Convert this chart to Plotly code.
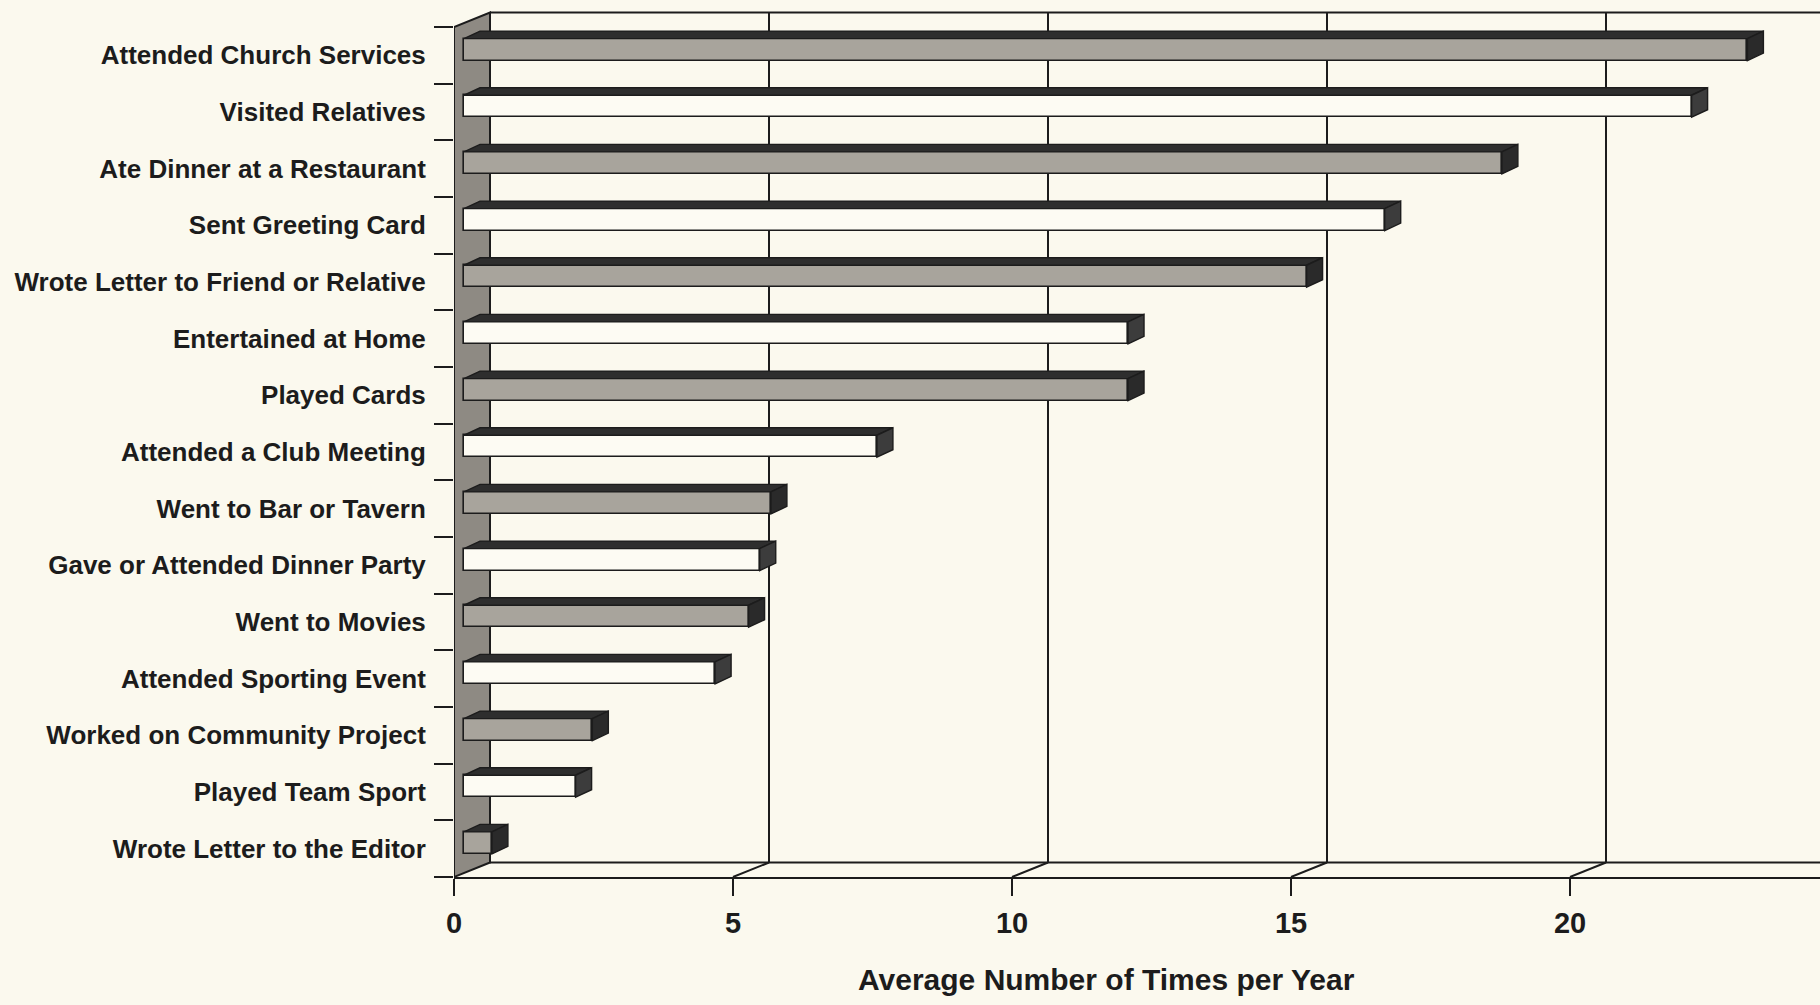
import plotly.graph_objects as go

# ---------------- data ----------------
categories = [
    "Attended Church Services",
    "Visited Relatives",
    "Ate Dinner at a Restaurant",
    "Sent Greeting Card",
    "Wrote Letter to Friend or Relative",
    "Entertained at Home",
    "Played Cards",
    "Attended a Club Meeting",
    "Went to Bar or Tavern",
    "Gave or Attended Dinner Party",
    "Went to Movies",
    "Attended Sporting Event",
    "Worked on Community Project",
    "Played Team Sport",
    "Wrote Letter to the Editor",
]
values = [23.0, 22.0, 18.6, 16.5, 15.1, 11.9, 11.9, 7.4, 5.5, 5.3, 5.1, 4.5, 2.3, 2.0, 0.5]
x_ticks = [0, 5, 10, 15, 20]
x_title = "Average Number of Times per Year"

# ---------------- style / geometry ----------------
W, H = 1820, 1005
M_L, M_B = 454, 128
PX_X = 55.8     # pixels per x unit
PX_Y = 56.67    # pixels per category
n = len(categories)
idx = list(range(n))
X_MAX = (W - M_L) / PX_X
Y_BOT = n - 0.5
Y_TOP = -0.5 - 27 / PX_Y

WALL_DX, WALL_DY = 36 / PX_X, -14.5 / PX_Y      # depth of the chart box
BAR_FX, BAR_FY = 10 / PX_X, -5.75 / PX_Y         # bar front plane offset
BAR_H = 22 / PX_Y                                # front face height
BAR_DX, BAR_DY = 16 / PX_X, -7.5 / PX_Y          # bar depth

BG = "#fbf9ee"
INK = "#1c1c1c"
GRAY_FACE = "#a8a49c"
WHITE_FACE = "#fdfbf3"
TOP_FACE = "#2e2e2e"
SIDE_GRAY = "#2a2a2a"
SIDE_WHITE = "#3c3c3c"
WALL = "#8e8a83"
FONT = "Liberation Sans, Arial, sans-serif"

face_colors = [GRAY_FACE if i % 2 == 0 else WHITE_FACE for i in idx]

fig = go.Figure()

# front faces of the bars
fig.add_trace(go.Bar(
    x=values,
    y=[i + BAR_FY for i in idx],
    base=BAR_FX,
    orientation="h",
    width=BAR_H,
    marker=dict(color=face_colors, line=dict(color=INK, width=1.6)),
    hoverinfo="skip",
    showlegend=False,
))

# top faces and side faces
top_x, top_y = [], []
side = {0: ([], []), 1: ([], [])}
for i, v in zip(idx, values):
    yt = i + BAR_FY - BAR_H / 2
    yb = i + BAR_FY + BAR_H / 2
    x0 = BAR_FX
    x1 = BAR_FX + v
    top_x += [x0, x1, x1 + BAR_DX, x0 + BAR_DX, x0, None]
    top_y += [yt, yt, yt + BAR_DY, yt + BAR_DY, yt, None]
    sx, sy = side[i % 2]
    sx += [x1, x1 + BAR_DX, x1 + BAR_DX, x1, x1, None]
    sy += [yt, yt + BAR_DY, yb + BAR_DY, yb, yt, None]

fig.add_trace(go.Scatter(
    x=top_x, y=top_y, mode="lines", fill="toself", fillcolor=TOP_FACE,
    line=dict(color=INK, width=1.4), hoverinfo="skip", showlegend=False))
for k, col in ((0, SIDE_GRAY), (1, SIDE_WHITE)):
    fig.add_trace(go.Scatter(
        x=side[k][0], y=side[k][1], mode="lines", fill="toself", fillcolor=col,
        line=dict(color=INK, width=1.4), hoverinfo="skip", showlegend=False))

# ---------------- chart box (walls, floor, gridlines) ----------------
shapes = []
line_style = dict(color=INK, width=2)
# left wall
wall_path = (f"M 0,{Y_BOT} L 0,-0.5 L {WALL_DX},{-0.5 + WALL_DY} "
             f"L {WALL_DX},{Y_BOT + WALL_DY} Z")
shapes.append(dict(type="path", path=wall_path, xref="x", yref="y",
                   fillcolor=WALL, line=dict(color=INK, width=2), layer="below"))
# back wall top edge
shapes.append(dict(type="line", xref="x", yref="y", x0=WALL_DX, x1=X_MAX + 1,
                   y0=-0.5 + WALL_DY, y1=-0.5 + WALL_DY, line=line_style, layer="below"))
# back floor edge
shapes.append(dict(type="line", xref="x", yref="y", x0=WALL_DX, x1=X_MAX + 1,
                   y0=Y_BOT + WALL_DY, y1=Y_BOT + WALL_DY, line=line_style, layer="below"))
# gridlines on the back wall and floor diagonals
for t in x_ticks[1:]:
    shapes.append(dict(type="line", xref="x", yref="y", x0=t + WALL_DX, x1=t + WALL_DX,
                       y0=Y_BOT + WALL_DY, y1=-0.5 + WALL_DY, line=line_style, layer="below"))
    shapes.append(dict(type="line", xref="x", yref="y", x0=t, x1=t + WALL_DX,
                       y0=Y_BOT, y1=Y_BOT + WALL_DY, line=line_style, layer="below"))

fig.update_layout(
    shapes=shapes,
    width=W, height=H,
    margin=dict(l=M_L, r=0, t=0, b=M_B, pad=0),
    paper_bgcolor=BG, plot_bgcolor=BG,
    bargap=0,
    showlegend=False,
    font=dict(family=FONT, color=INK),
    xaxis=dict(
        range=[0, X_MAX], tickmode="array", tickvals=x_ticks,
        ticktext=[str(t) for t in x_ticks],
        showgrid=False, zeroline=False,
        showline=True, linecolor=INK, linewidth=2,
        ticks="outside", ticklen=17, tickwidth=2, tickcolor=INK,
        tickfont=dict(family=FONT, size=29, color=INK, weight="bold"),
        ticklabelstandoff=2,
    ),
    yaxis=dict(
        range=[Y_BOT, Y_TOP], tickmode="array", tickvals=idx, ticktext=categories,
        showgrid=False, zeroline=False, showline=False,
        ticks="outside", ticklen=19, tickcolor="rgba(0,0,0,0)",
        tickfont=dict(family=FONT, size=26, color=INK, weight="bold"),
        ticklabelstandoff=3,
        minor=dict(tickmode="array", tickvals=[i - 0.5 for i in range(n + 1)],
                   ticks="outside", ticklen=19, tickwidth=2, tickcolor=INK,
                   showgrid=False),
    ),
    annotations=[dict(
        text=x_title, xref="paper", yref="paper",
        x=(1106 - M_L) / (W - M_L), y=-(979 - (H - M_B)) / (H - M_B),
        xanchor="center", yanchor="middle", showarrow=False,
        font=dict(family=FONT, size=30, color=INK, weight="bold"),
    )],
)

fig.write_html("out.html", config={"displayModeBar": False},
               post_script="document.body.style.margin='0';")
